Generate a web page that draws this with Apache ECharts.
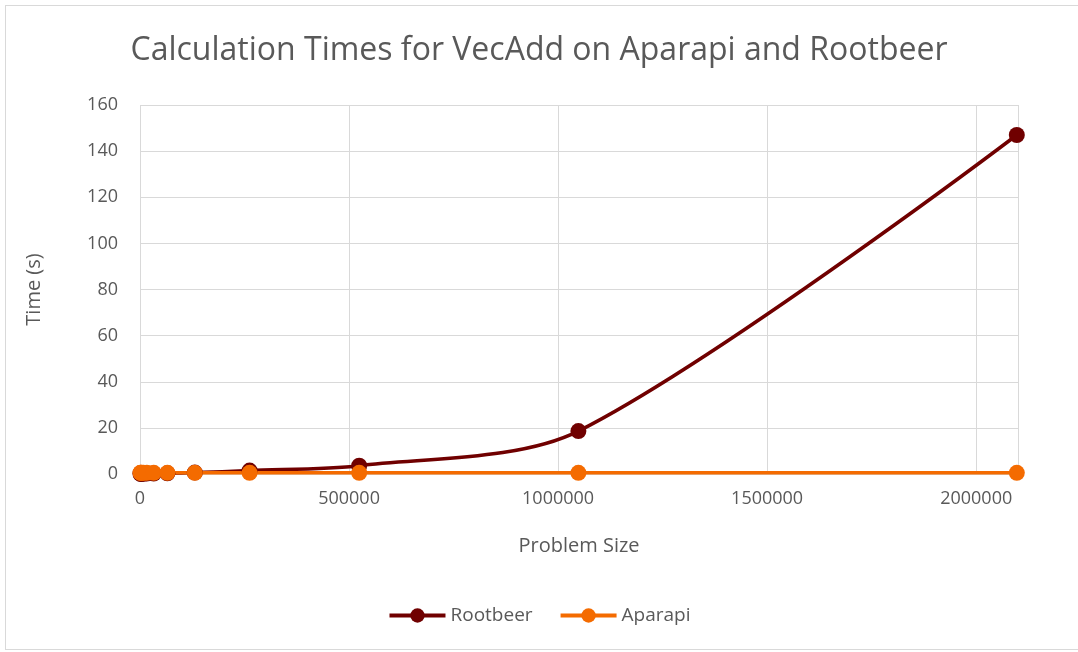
<!DOCTYPE html>
<html>
<head>
<meta charset="utf-8">
<script src="https://cdn.jsdelivr.net/npm/echarts@6/dist/echarts.min.js"></script>
<style>
  html, body { margin: 0; padding: 0; background: #fff; }
  #frame { position: absolute; left: 5px; top: 5px; width: 1090px; height: 643px; border: 1px solid #d9d9d9; }
  #chart { width: 1078px; height: 652px; }
</style>
</head>
<body>
<div id="frame"></div>
<div id="chart"></div>
<script>
// problem sizes (x) and times in seconds (y)
var sizes = [1024, 2048, 4096, 8192, 16384, 32768, 65536, 131072, 262144, 524288, 1048576, 2097152];
var rootbeerTimes = [0.1, 0.1, 0.1, 0.1, 0.2, 0.2, 0.3, 0.6, 1.5, 3.6, 18.6, 147];
var aparapiTimes = [0.5, 0.5, 0.5, 0.5, 0.5, 0.5, 0.5, 0.5, 0.5, 0.5, 0.5, 0.5];
var seriesNames = ["Rootbeer", "Aparapi"];
var seriesColors = ["#700000", "#f46b00"];

var textColor = "#595959";
var fontName = "'Open Sans', sans-serif";

function pairs(xs, ys) {
    var out = [];
    for (var i = 0; i < xs.length; i++) {
        out.push([xs[i], ys[i]]);
    }
    return out;
}

var chart = echarts.init(document.getElementById('chart'));
var option = {
    animation: false,
    title: {
        text: 'Calculation Times for VecAdd on Aparapi and Rootbeer',
        left: 'center',
        top: 30,
        textStyle: { color: textColor, fontFamily: fontName, fontWeight: 'normal', fontSize: 32 }
    },
    legend: {
        bottom: 22,
        left: 'center',
        itemWidth: 56,
        itemHeight: 18,
        itemGap: 26,
        lineStyle: { width: 4 },
        textStyle: { color: textColor, fontFamily: fontName, fontSize: 19 },
        data: seriesNames
    },
    grid: { left: 140, right: 60, top: 105, bottom: 178, containLabel: false },
    xAxis: {
        type: 'value',
        min: 0,
        max: 2100000,
        interval: 500000,
        name: 'Problem Size',
        nameLocation: 'middle',
        nameGap: 62,
        nameTextStyle: { color: textColor, fontFamily: fontName, fontSize: 20 },
        axisLine: { show: true, lineStyle: { color: '#d9d9d9' } },
        axisTick: { show: false },
        axisLabel: {
            color: textColor, fontFamily: fontName, fontSize: 18, margin: 16, showMaxLabel: false,
            formatter: function (v) { return String(v); }
        },
        splitLine: { show: true, lineStyle: { color: '#d9d9d9' } }
    },
    yAxis: {
        type: 'value',
        min: 0,
        max: 160,
        interval: 20,
        name: 'Time (s)',
        nameLocation: 'middle',
        nameGap: 96,
        nameTextStyle: { color: textColor, fontFamily: fontName, fontSize: 20 },
        axisLine: { show: false },
        axisTick: { show: false },
        axisLabel: { color: textColor, fontFamily: fontName, fontSize: 18, margin: 22 },
        splitLine: { show: true, lineStyle: { color: '#d9d9d9' } }
    },
    series: [
        {
            name: seriesNames[0],
            type: 'line',
            smooth: 0.3,
            symbol: 'circle',
            symbolSize: 16,
            color: seriesColors[0],
            lineStyle: { width: 3.5 },
            data: pairs(sizes, rootbeerTimes)
        },
        {
            name: seriesNames[1],
            type: 'line',
            smooth: 0.3,
            symbol: 'circle',
            symbolSize: 16,
            color: seriesColors[1],
            lineStyle: { width: 3.5 },
            data: pairs(sizes, aparapiTimes)
        }
    ]
};
chart.setOption(option);
</script>
</body>
</html>
